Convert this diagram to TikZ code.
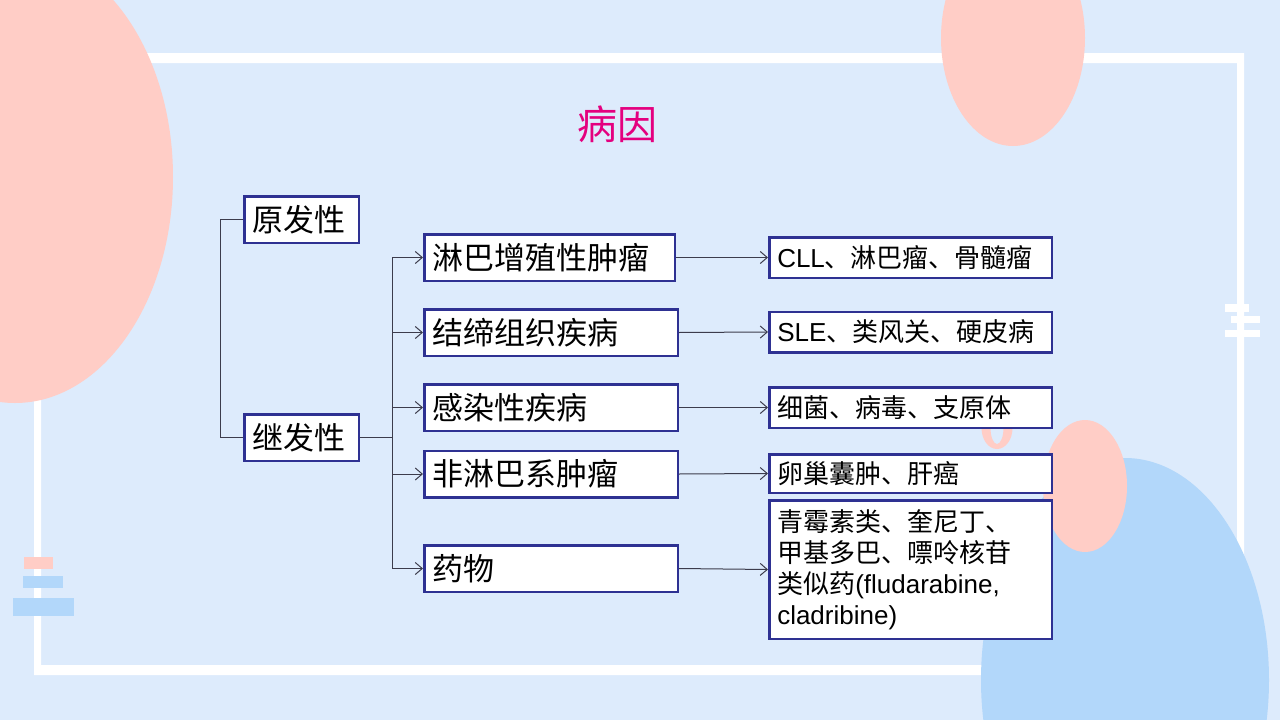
\documentclass[tikz,border=0pt]{standalone}
\usepackage{fontspec}
\setmainfont{Noto Sans CJK SC}
\newfontfamily\lat{Liberation Sans}
\usetikzlibrary{arrows.meta}

\definecolor{bgblue}{HTML}{DDEBFC}
\definecolor{pinkish}{HTML}{FFCDC6}
\definecolor{skyblue}{HTML}{B2D7FA}
\definecolor{boxline}{HTML}{2E3192}
\definecolor{linkgray}{HTML}{3C3C4C}
\definecolor{titlered}{HTML}{E4007F}

\begin{document}
\begin{tikzpicture}[
    x = 1pt, y = -1pt,
    every node/.style = {font = \fontsize{31}{37}\selectfont},
    title/.style = {text = titlered, font = \fontsize{40}{44}\selectfont},
    box/.style = {draw = boxline, line width = 2.5pt, fill = white,
        inner xsep = 8pt, inner ysep = 0pt, align = left},
    lbox/.style = {box, text width = 98.5pt, minimum height = 46.5pt},
    mbox/.style = {box, text width = 237.5pt, minimum height = 46.5pt},
    rbox/.style = {box, text width = 266.5pt, minimum height = 40.5pt,
        font = \fontsize{26}{31}\selectfont},
    link/.style = {draw = linkgray, line width = 1pt},
    arrow/.style = {link, -{Straight Barb[length = 7pt, width = 12pt]}}
]

% background
\clip (0,0) rectangle (1280,720);
\fill[bgblue] (0,0) rectangle (1280,720);
\fill[white, even odd rule] (34,53) rectangle (1244,675) (41,63) rectangle (1237,665);
\fill[pinkish] (15,177) ellipse [x radius = 158pt, y radius = 226pt];
\fill[pinkish] (1013,38) ellipse [x radius = 72pt, y radius = 108pt];
\fill[skyblue] (1125,680) ellipse [x radius = 144pt, y radius = 222pt];
\fill[pinkish] (1085,486) ellipse [x radius = 42pt, y radius = 66pt];
\fill[pinkish, even odd rule] (997,428) ellipse [x radius = 15.5pt, y radius = 21pt]
    (997,428) ellipse [x radius = 6.5pt, y radius = 16pt];
\fill[pinkish] (24,557) rectangle (53,569);
\fill[skyblue] (23,576) rectangle (63,588);
\fill[skyblue] (13,598) rectangle (74,616);
\fill[white] (1225,304) rectangle (1249,312);
\fill[white] (1231,316) rectangle (1260,323);
\fill[white] (1225,330) rectangle (1260,337);

\node[title] (title) at (617,124) {病因};

\node[lbox] (prim) at (301.5,219.5) {原发性};
\node[lbox] (sec) at (301.5,437.5) {继发性};

\node[mbox, text width = 234.5pt] (lymph) at (549.5,257.5) {淋巴增殖性肿瘤};
\node[mbox] (conn) at (551,332.5) {结缔组织疾病};
\node[mbox] (infect) at (551,407.5) {感染性疾病};
\node[mbox] (nonlym) at (551,474) {非淋巴系肿瘤};
\node[mbox] (drug) at (551,568.5) {药物};

\node[rbox] (r1) at (910.5,257.5) {{\lat CLL}、淋巴瘤、骨髓瘤};
\node[rbox] (r2) at (910.5,332) {{\lat SLE}、类风关、硬皮病};
\node[rbox] (r3) at (910.5,407.5) {细菌、病毒、支原体};
\node[rbox, minimum height = 38.5pt] (r4) at (910.5,473.5) {卵巢囊肿、肝癌};
\node[rbox, minimum height = 138.5pt] (r5) at (910.5,569.5) {青霉素类、奎尼丁、\\
    甲基多巴、嘌呤核苷\\ 类似药{\lat (fludarabine,}\\ {\lat cladribine)}};

\coordinate (hub) at (392,437.5);
\draw[link] (prim.west) -- ++(-23,0) |- (sec.west);
\draw[link] (sec.east) -- (hub);
\foreach \m in {lymph, conn, infect, nonlym, drug}
    \draw[arrow] (hub) |- (\m.west);

\draw[arrow] (lymph.east) -- (r1.west);
\draw[arrow] (conn.east) -- (r2.west);
\draw[arrow] (infect.east) -- (r3.west);
\draw[arrow] (nonlym.east) -- (r4.west);
\draw[arrow] (drug.east) -- (r5.west);

\end{tikzpicture}
\end{document}
